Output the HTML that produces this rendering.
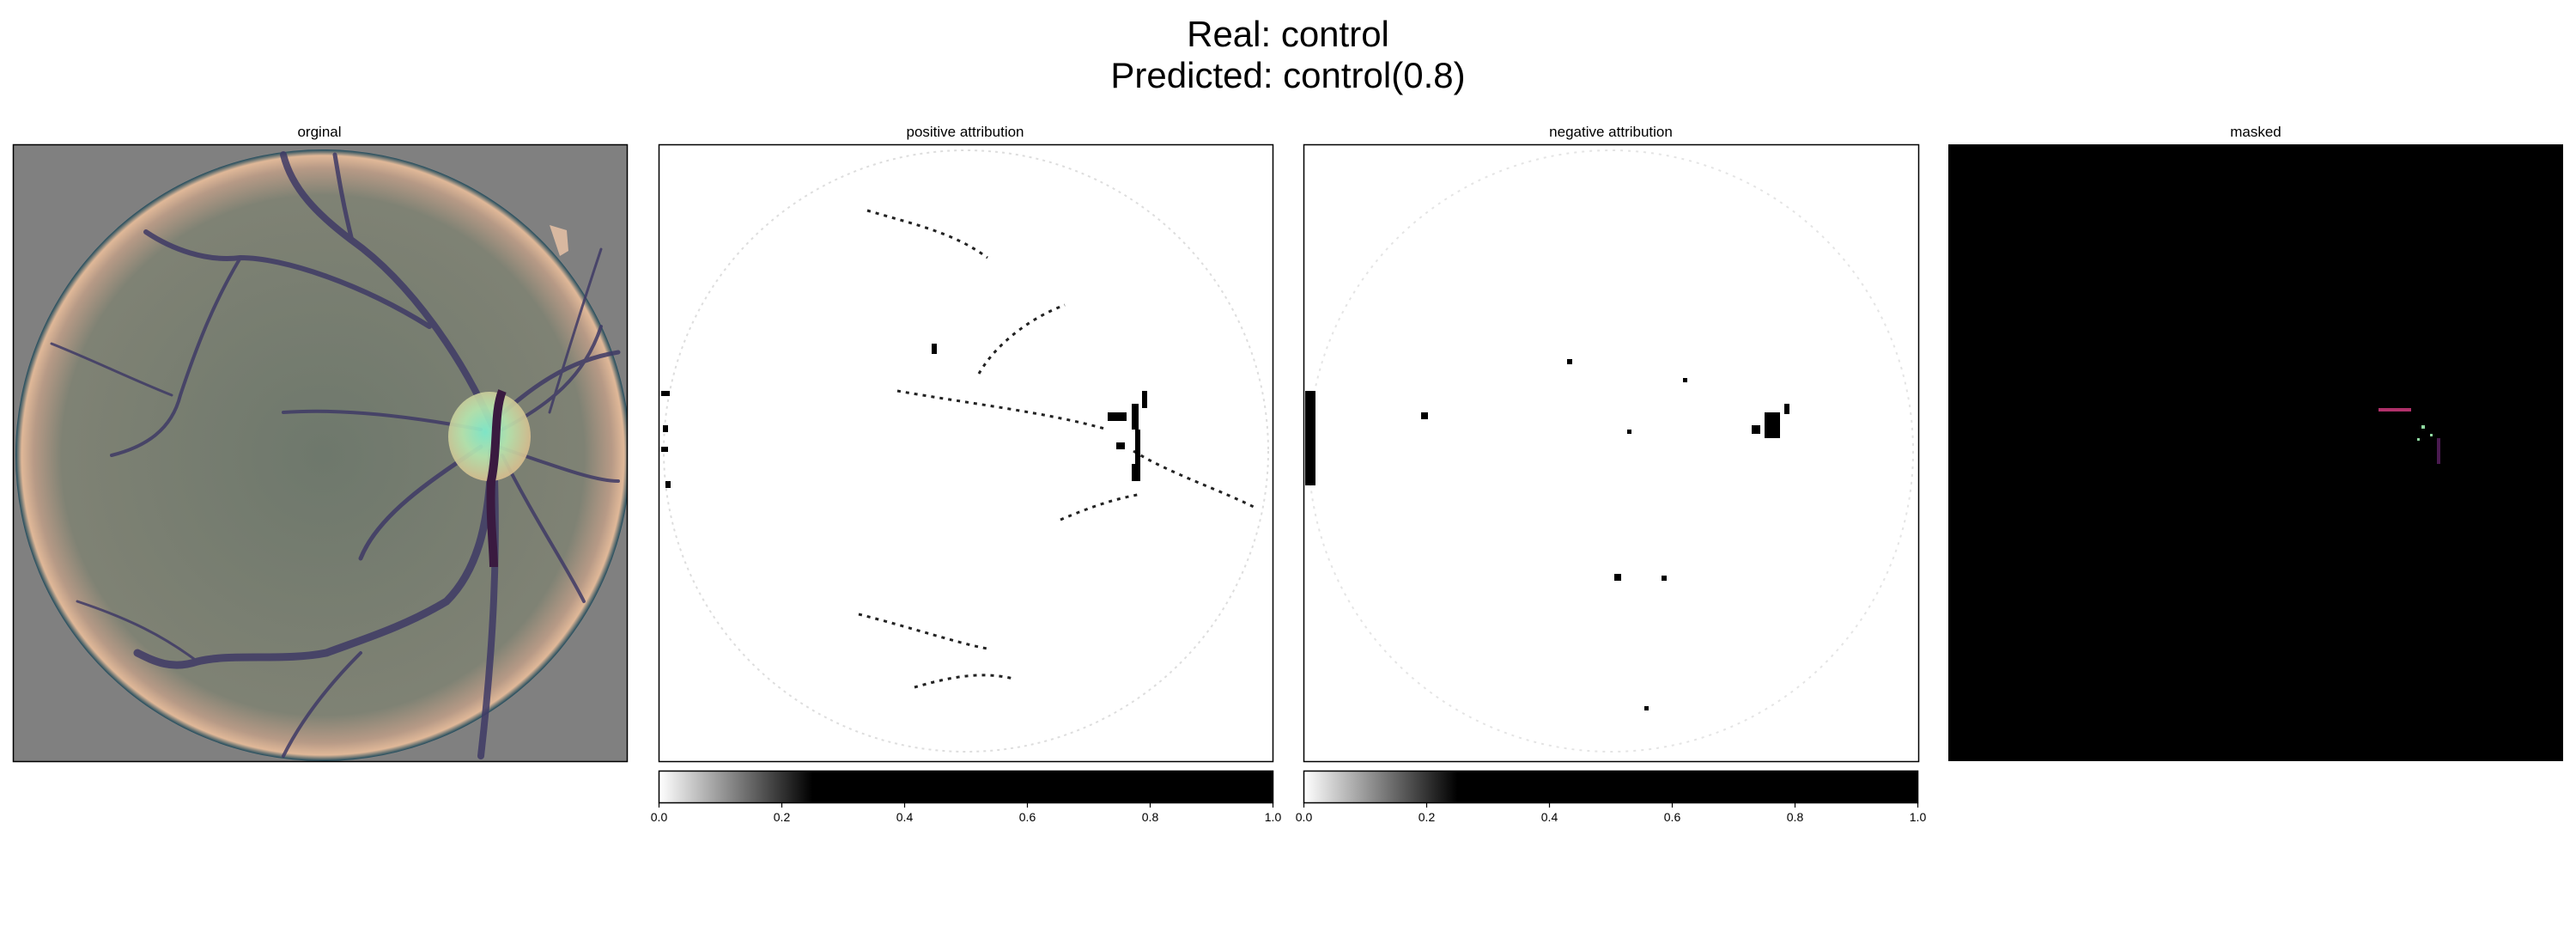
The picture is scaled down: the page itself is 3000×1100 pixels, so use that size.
<!DOCTYPE html>
<html><head><meta charset="utf-8">
<style>
body{margin:0;background:#fff;width:3000px;height:1100px;overflow:hidden;font-family:"Liberation Sans","DejaVu Sans",sans-serif;}
svg{display:block}
</style></head>
<body>
<svg id="fig" width="3000" height="1100" viewBox="0 0 3000 1100">
<defs>
<radialGradient id="fundus" cx="0.5" cy="0.5" r="0.5">
<stop offset="0" stop-color="#6e786c"/>
<stop offset="0.85" stop-color="#7f8274"/>
<stop offset="0.94" stop-color="#b79a86"/>
<stop offset="0.98" stop-color="#e0b898"/>
<stop offset="1" stop-color="#1f4a5c"/>
</radialGradient>
<radialGradient id="disc" cx="0.45" cy="0.45" r="0.55">
<stop offset="0" stop-color="#7ff0d0"/>
<stop offset="0.5" stop-color="#b8e8b0"/>
<stop offset="1" stop-color="#d8c090"/>
</radialGradient>
<linearGradient id="cmap" x1="0" x2="1" y1="0" y2="0">
<stop offset="0" stop-color="#fff"/>
<stop offset="0.25" stop-color="#000"/>
<stop offset="1" stop-color="#000"/>
</linearGradient>
<clipPath id="c1"><rect x="15" y="168" width="715" height="718"/></clipPath>
</defs>

<text x="1500" y="54" font-size="42" text-anchor="middle">Real: control</text>
<text x="1500" y="102" font-size="42" text-anchor="middle">Predicted: control(0.8)</text>

<g>
<text x="372" y="159" font-size="17" text-anchor="middle">orginal</text>
<g clip-path="url(#c1)">
<rect x="15" y="168" width="715" height="718" fill="#808080"/>
<ellipse cx="376" cy="530" rx="358" ry="356" fill="url(#fundus)"/>
<polygon points="640,262 660,268 662,292 652,298" fill="#d8b8a0"/>
<g fill="none" stroke="#3f3a66" stroke-linecap="round" opacity="0.85">
<path d="M573,495 C540,420 480,330 410,280 C370,250 340,220 330,180" stroke-width="8"/>
<path d="M500,380 C420,330 330,300 280,300 C240,305 200,290 170,270" stroke-width="6"/>
<path d="M410,280 C400,240 395,210 390,180" stroke-width="5"/>
<path d="M280,300 C250,350 230,400 210,460 C200,500 170,520 130,530" stroke-width="4"/>
<path d="M573,525 C570,600 560,660 520,700 C470,730 420,745 380,760 C330,770 270,760 230,770 C200,780 180,770 160,760" stroke-width="9"/>
<path d="M575,530 C580,640 575,750 560,880" stroke-width="8"/>
<path d="M560,520 C500,560 440,600 420,650" stroke-width="5"/>
<path d="M575,490 C620,450 660,420 720,410" stroke-width="5"/>
<path d="M585,500 C640,470 680,440 700,380" stroke-width="4"/>
<path d="M580,520 C640,540 690,560 720,560" stroke-width="4"/>
<path d="M585,530 C620,600 660,660 680,700" stroke-width="4"/>
<path d="M560,500 C480,485 400,475 330,480" stroke-width="4"/>
<path d="M420,760 C380,800 350,840 330,880" stroke-width="4"/>
<path d="M230,770 C190,740 150,720 90,700" stroke-width="3"/>
<path d="M200,460 C150,440 110,420 60,400" stroke-width="3"/>
<path d="M640,480 C670,380 690,320 700,290" stroke-width="3"/>
</g>
<ellipse cx="570" cy="508" rx="48" ry="52" fill="url(#disc)" opacity="0.9"/>
<path d="M585,455 C575,480 580,520 572,560 C570,600 575,640 575,660" stroke="#3a1a40" stroke-width="10" fill="none"/>
</g>
<rect x="15.5" y="168.5" width="715" height="718" fill="none" stroke="#000" stroke-width="1.5"/>
</g>

<g>
<text x="1124" y="159" font-size="17" text-anchor="middle">positive attribution</text>
<rect x="767" y="168" width="715" height="718" fill="#fff"/>
<ellipse cx="1125" cy="525" rx="352" ry="350" fill="none" stroke="#ddd" stroke-width="2" stroke-dasharray="3 5"/>
<g fill="none" stroke="#222" stroke-dasharray="4 6" stroke-width="3">
<path d="M1045,455 C1130,470 1220,480 1290,500"/>
<path d="M1010,245 C1060,260 1110,270 1150,300"/>
<path d="M1140,435 C1160,400 1200,370 1240,355"/>
<path d="M1000,715 C1060,730 1120,750 1150,755"/>
<path d="M1065,800 C1100,790 1140,780 1180,790"/>
<path d="M1320,525 C1360,550 1420,570 1460,590"/>
<path d="M1235,605 C1270,590 1300,580 1330,575"/>
</g>
<g fill="#000">
<rect x="1290" y="480" width="22" height="10"/>
<rect x="1318" y="470" width="8" height="30"/>
<rect x="1322" y="500" width="6" height="40"/>
<rect x="1300" y="515" width="10" height="8"/>
<rect x="1330" y="455" width="6" height="20"/>
<rect x="1318" y="540" width="10" height="20"/>
<rect x="770" y="455" width="10" height="6"/>
<rect x="772" y="495" width="6" height="8"/>
<rect x="770" y="520" width="8" height="6"/>
<rect x="775" y="560" width="6" height="8"/>
<rect x="1085" y="400" width="6" height="12"/>
</g>
<rect x="767.5" y="168.5" width="715" height="718" fill="none" stroke="#000" stroke-width="1.5"/>
</g>

<g>
<text x="1876" y="159" font-size="17" text-anchor="middle">negative attribution</text>
<rect x="1518" y="168" width="716" height="718" fill="#fff"/>
<ellipse cx="1876" cy="525" rx="352" ry="350" fill="none" stroke="#e4e4e4" stroke-width="2" stroke-dasharray="3 6"/>
<g fill="#000">
<rect x="1520" y="455" width="12" height="110"/>
<rect x="2055" y="480" width="18" height="30"/>
<rect x="2040" y="495" width="10" height="10"/>
<rect x="2078" y="470" width="6" height="12"/>
<rect x="1655" y="480" width="8" height="8"/>
<rect x="1825" y="418" width="6" height="6"/>
<rect x="1960" y="440" width="5" height="5"/>
<rect x="1880" y="668" width="8" height="8"/>
<rect x="1935" y="670" width="6" height="6"/>
<rect x="1915" y="822" width="5" height="5"/>
<rect x="1895" y="500" width="5" height="5"/>
</g>
<rect x="1518.5" y="168.5" width="716" height="718" fill="none" stroke="#000" stroke-width="1.5"/>
</g>

<g>
<text x="2627" y="159" font-size="17" text-anchor="middle">masked</text>
<rect x="2269" y="168" width="716" height="718" fill="#000"/>
<rect x="2770" y="475" width="38" height="4" fill="#b0306a"/>
<g fill="#8fd8a0"><rect x="2820" y="495" width="4" height="4"/><rect x="2830" y="505" width="3" height="3"/><rect x="2815" y="510" width="3" height="3"/></g>
<rect x="2838" y="510" width="4" height="30" fill="#4a1a50"/>
</g>

<g id="cbars"></g>
</svg>
<script>
const tickValues = [0.0, 0.2, 0.4, 0.6, 0.8, 1.0];
const tickLabels = ["0.0", "0.2", "0.4", "0.6", "0.8", "1.0"];
const colorbarLefts = [767, 1518];
const cbNames = ["positive-colorbar", "negative-colorbar"];
(function () {
  const NS = "http://www.w3.org/2000/svg";
  const g = document.getElementById("cbars");
  const W = 716, cbTop = 897, H = 37;
  colorbarLefts.forEach((x0, ci) => {
    const cg = document.createElementNS(NS, "g");
    
    
    const r = document.createElementNS(NS, "rect");
    r.setAttribute("x", x0 + 0.5); r.setAttribute("y", cbTop + 0.5);
    r.setAttribute("width", W - 1); r.setAttribute("height", H);
    r.setAttribute("fill", "url(#cmap)"); r.setAttribute("stroke", "#000"); r.setAttribute("stroke-width", "1.5");
    
    
    cg.appendChild(r);
    const xs = v => x0 + 0.5 + v * (W - 1);
    tickValues.forEach((v, i) => {
      const l = document.createElementNS(NS, "line");
      l.setAttribute("x1", xs(v)); l.setAttribute("x2", xs(v));
      l.setAttribute("y1", cbTop + H); l.setAttribute("y2", cbTop + H + 6);
      l.setAttribute("stroke", "#000"); l.setAttribute("stroke-width", "1.2");
      
      
      cg.appendChild(l);
      const t = document.createElementNS(NS, "text");
      t.setAttribute("x", xs(v)); t.setAttribute("y", cbTop + H + 22);
      t.setAttribute("font-size", "14"); t.setAttribute("text-anchor", "middle");
      t.textContent = tickLabels[i];
      
      
      cg.appendChild(t);
    });
    g.appendChild(cg);
  });
})();
</script>
</body></html>
